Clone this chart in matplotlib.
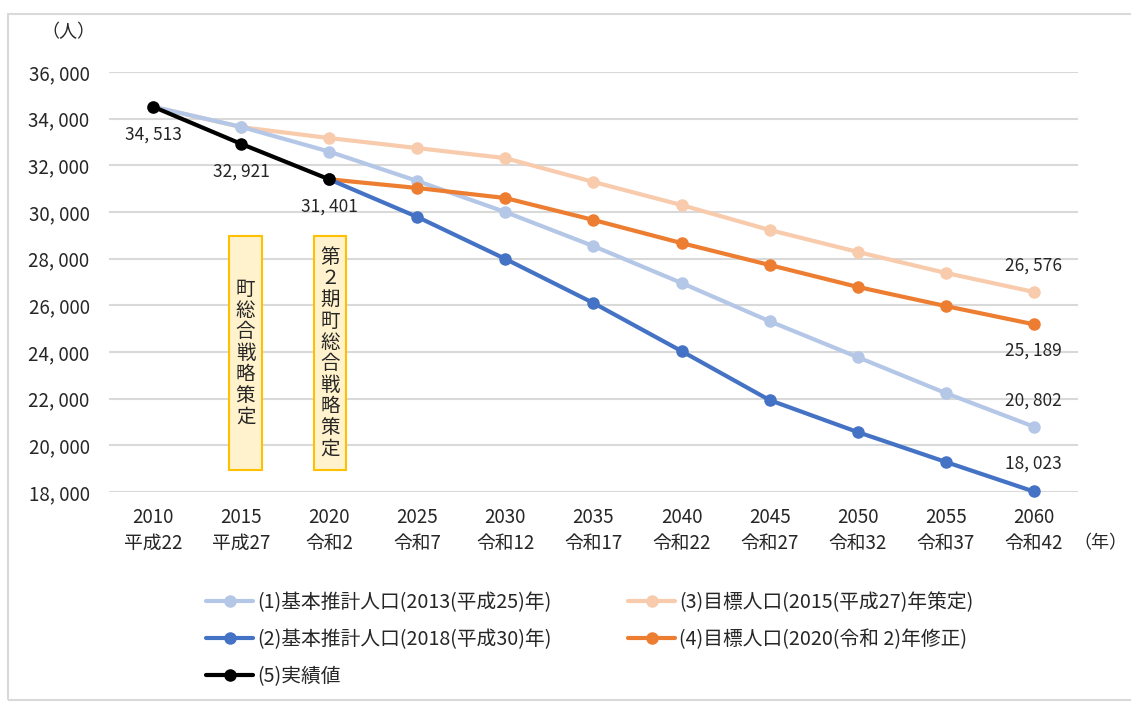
import matplotlib
matplotlib.use("Agg")
import matplotlib.pyplot as plt
from matplotlib.patches import Rectangle

plt.rcParams['font.family'] = ['Noto Sans CJK JP', 'DejaVu Sans']

years = ["2010", "2015", "2020", "2025", "2030", "2035", "2040", "2045", "2050", "2055", "2060"]
eras = ["平成22", "平成27", "令和2", "令和7", "令和12", "令和17", "令和22", "令和27", "令和32", "令和37", "令和42"]

s1 = [34513, 33650, 32590, 31330, 30000, 28540, 26960, 25320, 23780, 22240, 20802]
s3 = [34513, 33640, 33170, 32740, 32310, 31290, 30300, 29230, 28290, 27390, 26576]
s2 = [None, None, 31401, 29790, 27990, 26100, 24040, 21940, 20570, 19290, 18023]
s4 = [None, None, 31401, 31030, 30600, 29660, 28670, 27730, 26790, 25970, 25189]
s5 = [34513, 32921, 31401]

labels = ["(1)基本推計人口(2013(平成25)年)",
          "(2)基本推計人口(2018(平成30)年)",
          "(3)目標人口(2015(平成27)年策定)",
          "(4)目標人口(2020(令和 2)年修正)",
          "(5)実績値"]
colors = ["#B4C7E7", "#4472C4", "#F8CBAD", "#ED7D31", "#000000"]

box_texts = ["町総合戦略策定", "第２期町総合戦略策定"]

fig = plt.figure(figsize=(11.31, 7.02), dpi=100)
ax = fig.add_axes([0.0964, 0.2991, 0.8566, 0.5983])

x = list(range(len(years)))

def xy(vals):
    xs = [i for i, v in enumerate(vals) if v is not None]
    ys = [v for v in vals if v is not None]
    return xs, ys

kw = dict(lw=3, marker='o', markersize=8, solid_capstyle='round', clip_on=False)
h3, = ax.plot(*xy(s3), color=colors[2], label=labels[2], zorder=3, **kw)
h1, = ax.plot(*xy(s1), color=colors[0], label=labels[0], zorder=4, **kw)
h4, = ax.plot(*xy(s4), color=colors[3], label=labels[3], zorder=5, **kw)
h2, = ax.plot(*xy(s2), color=colors[1], label=labels[1], zorder=6, **kw)
h5, = ax.plot(*xy(s5), color=colors[4], label=labels[4], zorder=7, **kw)

def fmt(v):
    return f"{v:,}".replace(",", ", ")

ax.set_xlim(-0.5, len(years) - 0.5)
ax.set_ylim(18000, 36000)
ax.set_yticks(range(18000, 36001, 2000))
ax.set_yticklabels([fmt(v) for v in range(18000, 36001, 2000)], fontsize=13.5, color="#262626")
ax.set_xticks(x)
ax.set_xticklabels([f"{a}\n{b}" for a, b in zip(years, eras)], fontsize=13.5, color="#262626", linespacing=1.3)
ax.tick_params(length=0)
ax.tick_params(axis='x', pad=11)
ax.tick_params(axis='y', pad=14)
for sp in ax.spines.values():
    sp.set_visible(False)
ax.grid(axis='y', color="#D9D9D9", lw=1.5)
ax.set_axisbelow(True)

lab_kw = dict(fontsize=12.5, color="#262626", ha='center', textcoords='offset points')
ax.annotate(fmt(s5[0]), (0, s5[0]), xytext=(0, -20), va='center', **lab_kw)
ax.annotate(fmt(s5[1]), (1, s5[1]), xytext=(0, -20), va='center', **lab_kw)
ax.annotate(fmt(s5[2]), (2, s5[2]), xytext=(0, -20), va='center', **lab_kw)
ax.annotate(fmt(s3[-1]), (10, s3[-1]), xytext=(0, 19), va='center', **lab_kw)
ax.annotate(fmt(s4[-1]), (10, s4[-1]), xytext=(0, -19), va='center', **lab_kw)
ax.annotate(fmt(s1[-1]), (10, s1[-1]), xytext=(0, 19), va='center', **lab_kw)
ax.annotate(fmt(s2[-1]), (10, s2[-1]), xytext=(0, 20), va='center', **lab_kw)

for cx, txt in [(1.05, box_texts[0]), (2.01, box_texts[1])]:
    ax.add_patch(Rectangle((cx - 0.185, 18940), 0.37, 10030, facecolor="#FFF2CC",
                           edgecolor="#FFC000", lw=1.5, zorder=2))
    ax.text(cx, (18940 + 28970) / 2, "\n".join(txt), ha='center', va='center',
            fontsize=14, color="#262626", linespacing=1.02, zorder=2.5)

fig.text(68 / 1131, 1 - 32 / 702, "（人）", fontsize=13, color="#262626", ha='center', va='center')
fig.text(1100 / 1131, 1 - 543 / 702, "（年）", fontsize=13, color="#262626", ha='center', va='center')

fig.add_artist(Rectangle((8 / 1131, 2 / 702), 1.2, 686 / 702, transform=fig.transFigure,
                         facecolor='none', edgecolor="#D9D9D9", lw=1.5))

leg_kw = dict(loc='upper left', frameon=False, fontsize=14.2, handlelength=2.4,
              handletextpad=0.2, labelspacing=0.81, borderaxespad=0, borderpad=0)
leg1 = fig.legend([h1, h2, h5], [labels[0], labels[1], labels[4]],
                  bbox_to_anchor=(206 / 1131, 1 - 592 / 702), **leg_kw)
leg2 = fig.legend([h3, h4], [labels[2], labels[3]],
                  bbox_to_anchor=(628 / 1131, 1 - 592 / 702), **leg_kw)
for lg in (leg1, leg2):
    for t in lg.get_texts():
        t.set_color("#262626")

fig.savefig("out.png", dpi=100, facecolor='white')
